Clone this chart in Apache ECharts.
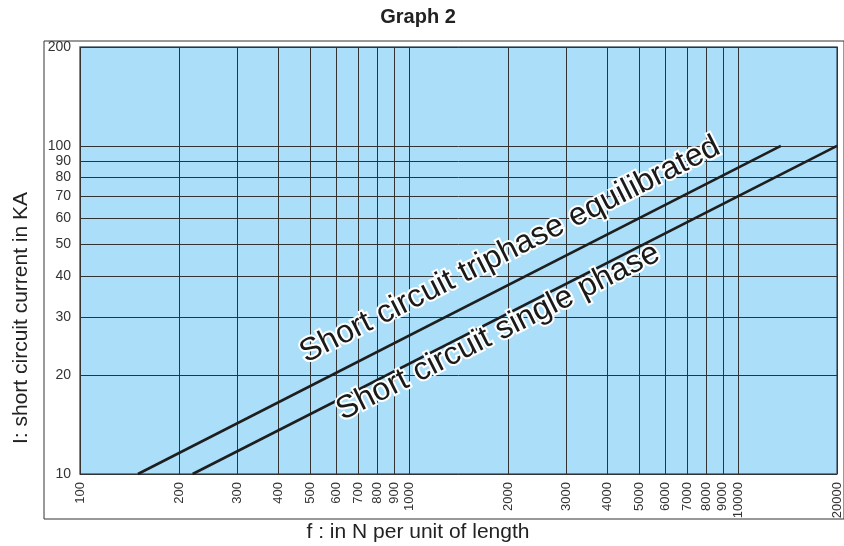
<!DOCTYPE html>
<html><head><meta charset="utf-8">
<script src="https://cdn.jsdelivr.net/npm/echarts@6/dist/echarts.min.js"></script>
<style>html,body{margin:0;padding:0;background:#fff}#c{width:844px;height:546px}</style>
</head><body><div id="c"></div>
<script>
const xTicks = [100,200,300,400,500,600,700,800,900,1000,2000,3000,4000,5000,6000,7000,8000,9000,10000,20000];
const yTicks = [10,20,30,40,50,60,70,80,90,100,200];
const triphaseF = [150, 13500];
const triphaseI = [10, 100];
const singleF = [220, 20000];
const singleI = [10, 100];
const triphaseName = 'Short circuit triphase equilibrated';
const singleName = 'Short circuit single phase';
const titleText = 'Graph 2';
const xTitle = 'f : in N per unit of length';
const yTitle = 'I: short circuit current in KA';

const FONT = '"Liberation Sans", Arial, Helvetica, sans-serif';
const chart = echarts.init(document.getElementById('c'), null, {renderer: 'canvas'});
const pairs = (xs, ys) => xs.map((x, i) => [x, ys[i]]);
const lineLabel = (t, x, y) => ({
  type: 'text', x: x, y: y, rotation: 26.8 * Math.PI / 180, z: 100,
  style: {
    text: t, font: '32px ' + FONT, fill: '#1a1a1a', stroke: '#ffffff', lineWidth: 4,
    align: 'center', verticalAlign: 'middle'
  }
});
const plainText = (t, x, y, font, rot) => ({
  type: 'text', x: x, y: y, rotation: rot || 0, z: 100,
  style: {text: t, font: font, fill: '#222', align: 'center', verticalAlign: 'middle'}
});
chart.setOption({
  animation: false,
  backgroundColor: '#ffffff',
  grid: {left: 80, right: 7, top: 47, bottom: 72, show: true, backgroundColor: '#abdff9', borderColor: '#4f6473', borderWidth: 1.5},
  xAxis: {
    type: 'log', logBase: 10, min: 100, max: 20000,
    axisLine: {show: false},
    axisTick: {show: false, customValues: xTicks},
    axisLabel: {customValues: xTicks, rotate: 90, fontFamily: FONT, fontSize: 13, color: '#333', margin: 8, hideOverlap: false, formatter: v => String(v)},
    splitLine: {show: true, lineStyle: {color: '#333', width: 1}},
    minorSplitLine: {show: false}
  },
  yAxis: {
    type: 'log', logBase: 10, min: 10, max: 200,
    axisLine: {show: false},
    axisTick: {show: false, customValues: yTicks},
    axisLabel: {customValues: yTicks, fontFamily: FONT, fontSize: 14, color: '#333', margin: 9, hideOverlap: false, formatter: v => String(v)},
    splitLine: {show: true, lineStyle: {color: '#333', width: 1}}
  },
  series: [
    {name: triphaseName, type: 'line', data: pairs(triphaseF, triphaseI), showSymbol: false, lineStyle: {color: '#1e1e1e', width: 2.6}, z: 5},
    {name: singleName, type: 'line', data: pairs(singleF, singleI), showSymbol: false, lineStyle: {color: '#1e1e1e', width: 2.6}, z: 5}
  ],
  graphic: [
    {type: 'rect', shape: {x: 44, y: 41, width: 800, height: 478}, style: {fill: 'none', stroke: '#333', lineWidth: 1}, z: 50, silent: true},
    lineLabel(triphaseName, 510, 250),
    lineLabel(singleName, 498, 332),
    plainText(titleText, 418, 17, 'bold 20px ' + FONT),
    plainText(xTitle, 418, 532, '21px ' + FONT),
    plainText(yTitle, 21, 318, '21px ' + FONT, Math.PI / 2)
  ]
});
</script></body></html>
